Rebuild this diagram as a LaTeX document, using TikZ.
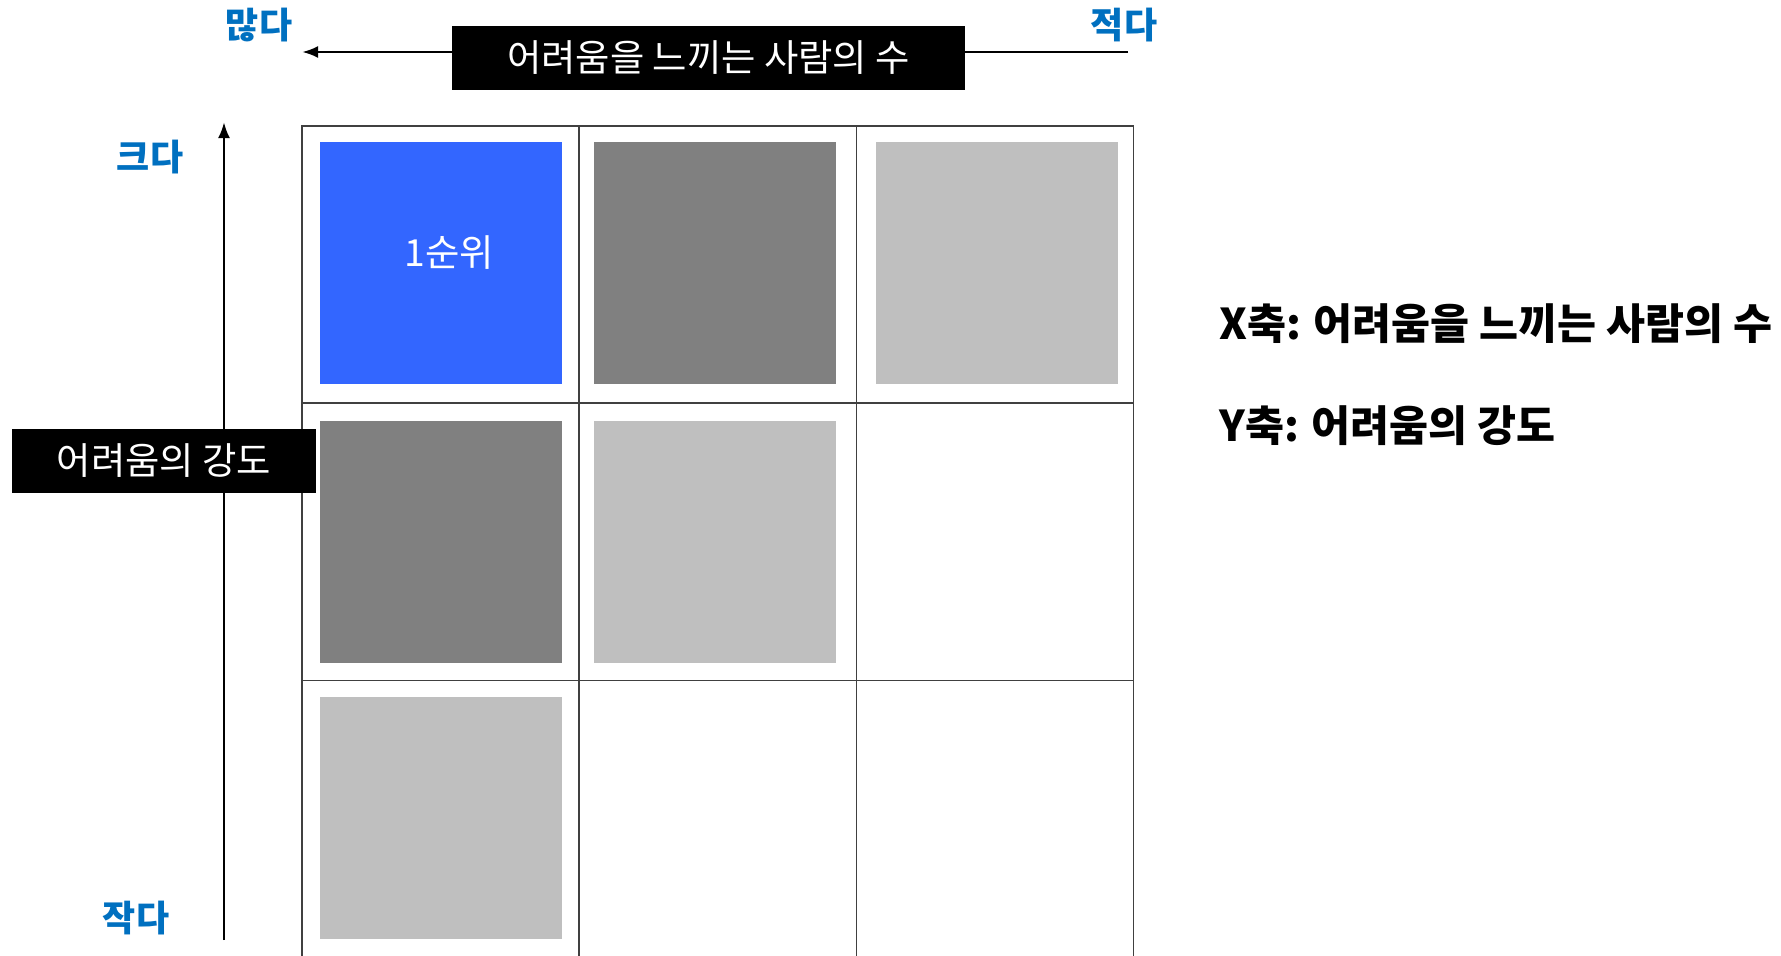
\documentclass[tikz,border=0pt]{standalone}
\usepackage{fontspec}
\setmainfont{Noto Sans CJK KR}
\usetikzlibrary{arrows.meta}
\definecolor{lblue}{HTML}{0070C0}
\definecolor{qblue}{HTML}{3366FF}
\definecolor{dgray}{HTML}{808080}
\definecolor{lgray}{HTML}{BFBFBF}
\definecolor{gline}{HTML}{404040}
\begin{document}
\begin{tikzpicture}[x=0.75pt,y=-0.75pt,
  cell/.style={draw=gline,line width=1.1pt,minimum width=207.9pt,minimum height=207.9pt,inner sep=0pt},
  sq/.style={minimum width=181.5pt,minimum height=181.5pt,inner sep=0pt},
  blk/.style={fill=black,text=white,inner sep=0pt,font=\fontsize{28}{32}\selectfont},
  ends/.style={text=lblue,font=\bfseries\fontsize{27}{30}\selectfont,inner sep=0pt},
  axis/.style={line width=2.1pt,-{Latex[length=12pt,width=9pt]}},
  legend/.style={anchor=west,inner sep=0pt,font=\bfseries\fontsize{31.8}{36}\selectfont}]
\useasboundingbox (0,0) rectangle (1781,956);
\fill[white] (0,0) rectangle (1781,956);
% grid cells
\foreach \r/\y in {1/264.6,2/541.8,3/819} {
  \foreach \c/\x in {1/440.6,2/717.8,3/995} {
    \node[cell] (c\r\c) at (\x,\y) {};
  }
}
% squares
\node[sq,fill=qblue] (s11) at (441,263) {};
\node[sq,fill=dgray] (s12) at (714.5,263) {};
\node[sq,fill=lgray] (s13) at (997,263) {};
\node[sq,fill=dgray] (s21) at (441,542) {};
\node[sq,fill=lgray] (s22) at (714.5,542) {};
\node[sq,fill=lgray] (s31) at (441,818) {};
\node[text=white,font=\fontsize{28}{32}\selectfont,inner sep=0pt] (rank) at ([xshift=6pt,yshift=8pt]s11.center) {1순위};
% axes
\coordinate (xr) at (1128,52);
\coordinate (xl) at (302,52);
\coordinate (yb) at (224,940);
\coordinate (yt) at (224,122);
\draw[axis] (xr) -- (xl);
\draw[axis] (yb) -- (yt);
\node[blk,minimum width=384.75pt,minimum height=48pt] (xlab) at (708.5,58) {어려움을 느끼는 사람의 수};
\node[blk,minimum width=227.6pt,minimum height=48pt] (ylab) at (164,461) {어려움의 강도};
% end labels
\node[ends] (many) at (259,25) {많다};
\node[ends] (few) at (1124,25) {적다};
\node[ends] (big) at (150,157) {크다};
\node[ends] (small) at (136,918) {작다};
% legend
\node[legend] (lx) at (1219,324) {X축: 어려움을 느끼는 사람의 수};
\node[legend] (ly) at (1219,426) {Y축: 어려움의 강도};
\end{tikzpicture}
\end{document}
